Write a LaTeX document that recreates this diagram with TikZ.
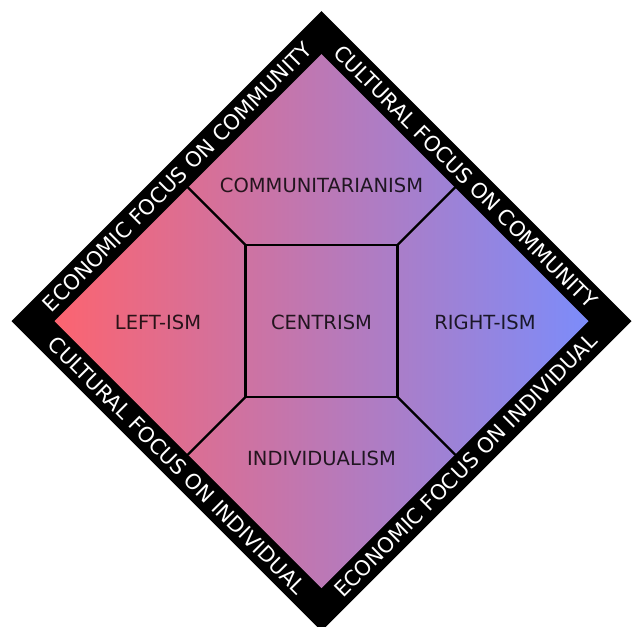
\documentclass[tikz,border=0pt]{standalone}
\usepackage{fontspec}
\setmainfont{DejaVu Sans}
\definecolor{leftred}{RGB}{252,100,112}
\definecolor{rightblue}{RGB}{124,140,250}
\begin{document}
\begin{tikzpicture}[x=1pt,y=1pt,
  band/.style={text=white, font=\fontsize{21}{21}\selectfont, inner sep=0pt},
  region/.style={text=black, text opacity=0.82, font=\fontsize{19.5}{19.5}\selectfont, inner sep=0pt},
  divider/.style={line width=2.3pt, black, line cap=round}]
\useasboundingbox[fill=white] (0,0) rectangle (641,-627);
% outer black diamond
\coordinate (OT) at (321.5,-11);
\coordinate (OR) at (631.5,-321);
\coordinate (OB) at (321.5,-631);
\coordinate (OL) at (11.5,-321);
\fill[black] (OT) -- (OR) -- (OB) -- (OL) -- cycle;
% inner shaded diamond
\coordinate (IT) at (321.5,-54);
\coordinate (IR) at (588.5,-321);
\coordinate (IB) at (321.5,-588);
\coordinate (IL) at (54.5,-321);
\shade[left color=leftred, right color=rightblue] (IT) -- (IR) -- (IB) -- (IL) -- cycle;
% inner square
\coordinate (S1) at (245.5,-245);
\coordinate (S2) at (397.5,-245);
\coordinate (S3) at (397.5,-397);
\coordinate (S4) at (245.5,-397);
\coordinate (E1) at (188,-187.5);
\coordinate (E2) at (455,-187.5);
\coordinate (E3) at (455,-454.5);
\coordinate (E4) at (188,-454.5);
\draw[divider] (S1) -- (S2) -- (S3) -- (S4) -- cycle;
\draw[divider] (S1) -- (E1);
\draw[divider] (S2) -- (E2);
\draw[divider] (S3) -- (E3);
\draw[divider] (S4) -- (E4);
% region labels
\node[region] (comm) at (321.5,-185) {COMMUNITARIANISM};
\node[region] (left) at (158,-322) {LEFT-ISM};
\node[region] (cent) at (321.5,-322) {CENTRISM};
\node[region] (right) at (485,-322) {RIGHT-ISM};
\node[region] (indiv) at (321.5,-458) {INDIVIDUALISM};
% band labels
\node[band, rotate=45] (b1) at (177.25,-176.75) {ECONOMIC FOCUS ON COMMUNITY};
\node[band, rotate=-45] (b2) at (465.75,-176.75) {CULTURAL FOCUS ON COMMUNITY};
\node[band, rotate=-45] (b3) at (177.25,-465.25) {CULTURAL FOCUS ON INDIVIDUAL};
\node[band, rotate=45] (b4) at (465.75,-465.25) {ECONOMIC FOCUS ON INDIVIDUAL};
\end{tikzpicture}
\end{document}
